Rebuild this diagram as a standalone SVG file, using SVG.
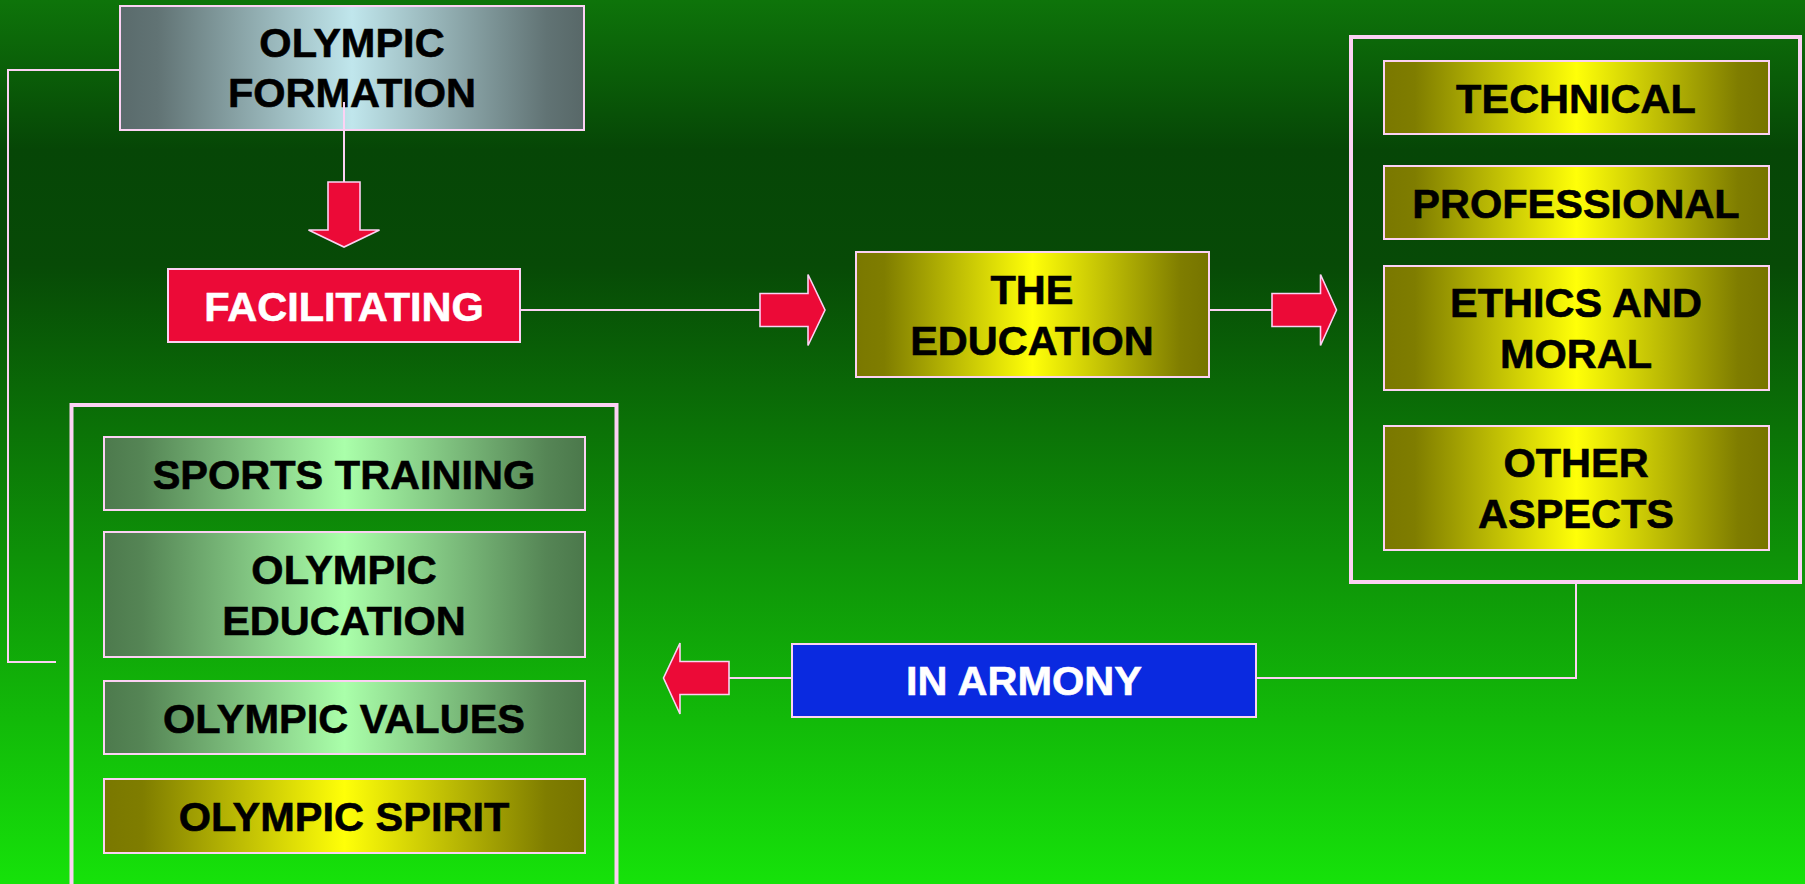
<svg xmlns="http://www.w3.org/2000/svg" width="1805" height="884" viewBox="0 0 1805 884">
<defs>
<linearGradient id="bg" x1="0" y1="0" x2="0" y2="1">
<stop offset="0" stop-color="#0e740a"/>
<stop offset="0.17" stop-color="#064606"/>
<stop offset="0.3" stop-color="#074a06"/>
<stop offset="1" stop-color="#16e20a"/>
</linearGradient>
<linearGradient id="grey" x1="0" y1="0" x2="1" y2="0">
<stop offset="0" stop-color="#5a6b6c"/>
<stop offset="0.08" stop-color="#617374"/>
<stop offset="0.5" stop-color="#c0e6ec"/>
<stop offset="0.92" stop-color="#617374"/>
<stop offset="1" stop-color="#586868"/>
</linearGradient>
<linearGradient id="yellow" x1="0" y1="0" x2="1" y2="0">
<stop offset="0" stop-color="#7a7800"/>
<stop offset="0.08" stop-color="#7f7d00"/>
<stop offset="0.5" stop-color="#ffff08"/>
<stop offset="0.92" stop-color="#7f7d00"/>
<stop offset="1" stop-color="#767400"/>
</linearGradient>
<linearGradient id="green" x1="0" y1="0" x2="1" y2="0">
<stop offset="0" stop-color="#4d7a4d"/>
<stop offset="0.08" stop-color="#558555"/>
<stop offset="0.5" stop-color="#aaffaa"/>
<stop offset="0.92" stop-color="#558555"/>
<stop offset="1" stop-color="#4b784b"/>
</linearGradient>
</defs>
<style>
.box{stroke:#fcd2f4;stroke-width:2}
.frame{fill:none;stroke:#fcd2f4;stroke-width:4}
.t{font-family:"Liberation Sans",Arial,sans-serif;font-weight:bold;font-size:41.5px;text-anchor:middle;fill:#000;stroke:#000;stroke-width:0.6}
.w{fill:#fff;stroke:#fff}
.ln{fill:none;stroke:#fcd2f4;stroke-width:2}
.arr{fill:#ec0a37;stroke:#fcd2f4;stroke-width:1.6}
</style>
<rect x="0" y="0" width="1805" height="884" fill="url(#bg)"/>
<g id="nodes">
<g id="olympic-formation">
<rect class="box" x="120" y="6" width="464" height="124" fill="url(#grey)"/>
<text class="t" x="352" y="57">OLYMPIC</text>
<text class="t" x="352" y="107">FORMATION</text>
</g>
<g id="facilitating">
<rect class="box" x="168" y="269" width="352" height="73" fill="#ec0a37"/>
<text class="t w" x="344" y="321">FACILITATING</text>
</g>
<g id="the-education">
<rect class="box" x="856" y="252" width="353" height="125" fill="url(#yellow)"/>
<text class="t" x="1032" y="304">THE</text>
<text class="t" x="1032" y="355">EDUCATION</text>
</g>
<g id="aspects-frame">
<rect class="frame" x="1351" y="37" width="449" height="545"/>
</g>
<g id="technical">
<rect class="box" x="1384" y="61" width="385" height="73" fill="url(#yellow)"/>
<text class="t" x="1576" y="112.5">TECHNICAL</text>
</g>
<g id="professional">
<rect class="box" x="1384" y="166" width="385" height="73" fill="url(#yellow)"/>
<text class="t" x="1576" y="217.5">PROFESSIONAL</text>
</g>
<g id="ethics">
<rect class="box" x="1384" y="266" width="385" height="124" fill="url(#yellow)"/>
<text class="t" x="1576" y="317">ETHICS AND</text>
<text class="t" x="1576" y="368">MORAL</text>
</g>
<g id="other-aspects">
<rect class="box" x="1384" y="426" width="385" height="124" fill="url(#yellow)"/>
<text class="t" x="1576" y="477">OTHER</text>
<text class="t" x="1576" y="528">ASPECTS</text>
</g>
<g id="in-armony">
<rect class="box" x="792" y="644" width="464" height="73" fill="#0a2ae0"/>
<text class="t w" x="1024" y="695">IN ARMONY</text>
</g>
<g id="olympic-frame">
<rect class="frame" x="71.5" y="405" width="545" height="520"/>
</g>
<g id="sports-training">
<rect class="box" x="104" y="437" width="481" height="73" fill="url(#green)"/>
<text class="t" x="344" y="488.5">SPORTS TRAINING</text>
</g>
<g id="olympic-education">
<rect class="box" x="104" y="532" width="481" height="125" fill="url(#green)"/>
<text class="t" x="344" y="584">OLYMPIC</text>
<text class="t" x="344" y="635">EDUCATION</text>
</g>
<g id="olympic-values">
<rect class="box" x="104" y="681" width="481" height="73" fill="url(#green)"/>
<text class="t" x="344" y="732.5">OLYMPIC VALUES</text>
</g>
<g id="olympic-spirit">
<rect class="box" x="104" y="779" width="481" height="74" fill="url(#yellow)"/>
<text class="t" x="344" y="831">OLYMPIC SPIRIT</text>
</g>
</g>
<g id="connectors">
<polyline class="ln" points="119,70 8,70 8,662 56,662"/>
<line class="ln" x1="344" y1="102" x2="344" y2="182"/>
<polygon class="arr" points="328,182 360,182 360,230 379.5,230 344,247 308.5,230 328,230"/>
<line class="ln" x1="521" y1="310" x2="760" y2="310"/>
<polygon class="arr" points="760,293.5 808,293.5 808,274.5 825,310 808,345.5 808,326.5 760,326.5"/>
<line class="ln" x1="1209" y1="310" x2="1272" y2="310"/>
<polygon class="arr" points="1272,293.5 1320.5,293.5 1320.5,274.5 1336.5,310 1320.5,345.5 1320.5,326.5 1272,326.5"/>
<polyline class="ln" points="1576,584 1576,678 1257,678"/>
<line class="ln" x1="791" y1="678" x2="729" y2="678"/>
<polygon class="arr" points="729,661.5 680,661.5 680,643 663.5,678 680,714 680,694.5 729,694.5"/>
</g>
</svg>
